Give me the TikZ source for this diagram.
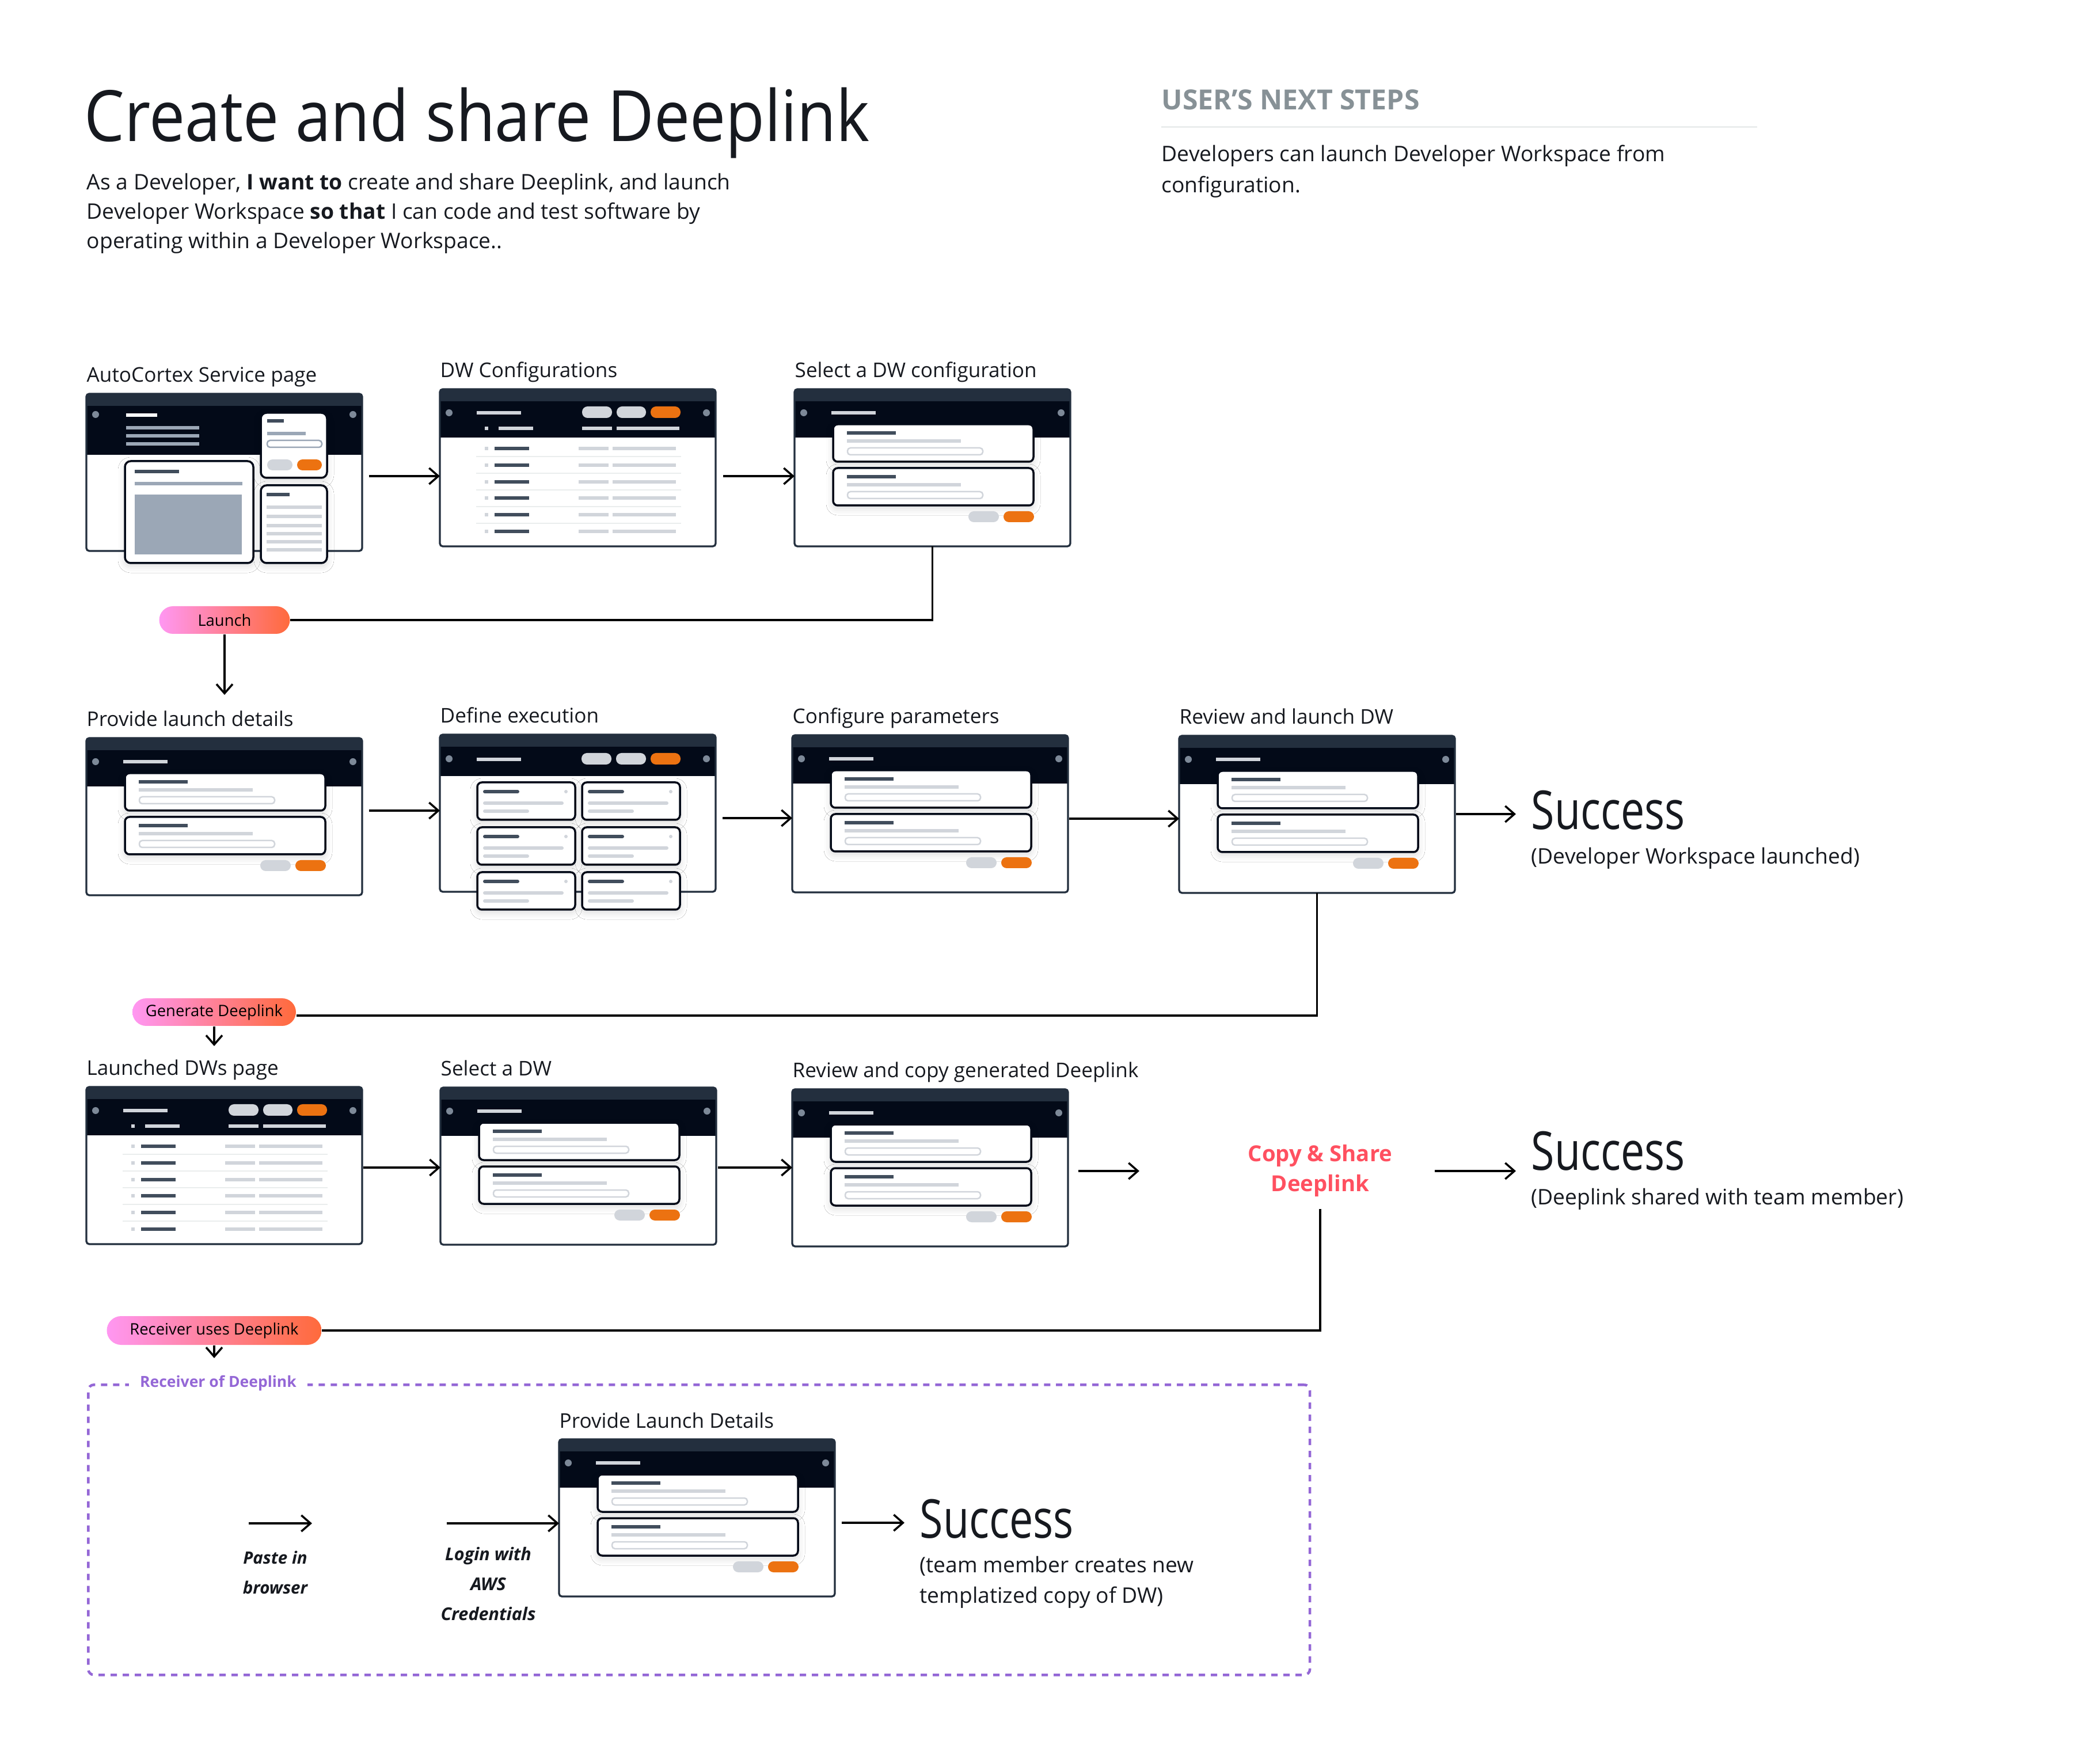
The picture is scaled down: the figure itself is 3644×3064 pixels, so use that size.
\documentclass[tikz,border=0pt]{standalone}
\usepackage{fontspec}
\setmainfont{Open Sans}
\newfontfamily\titlefont[FakeStretch=0.90]{Open Sans}
\newfontfamily\lightfont[FakeStretch=0.79]{Open Sans}
\usetikzlibrary{arrows.meta,shapes.misc,shadows.blur}

\definecolor{ink}{HTML}{16191F}
\definecolor{topbar}{HTML}{232F3E}
\definecolor{hdr}{HTML}{030A18}
\definecolor{dotc}{HTML}{7D8998}
\definecolor{lite}{HTML}{D1D5DB}
\definecolor{darkbar}{HTML}{414D5C}
\definecolor{midgray}{HTML}{9BA7B6}
\definecolor{orng}{HTML}{EC7211}
\definecolor{sep}{HTML}{EAEDED}
\definecolor{pillL}{HTML}{FF97F2}
\definecolor{pillR}{HTML}{FF6A3B}
\definecolor{purp}{HTML}{9467D6}
\definecolor{coral}{HTML}{FF5060}
\definecolor{headgray}{HTML}{879196}

\tikzset{
  cardsh/.style={blur shadow={shadow xshift=0mm, shadow yshift=-0.5mm, shadow blur radius=1.2mm, shadow opacity=15}},
  card/.style={draw=hdr, fill=white, line width=0.35mm, rounded corners=0.8mm, cardsh},
  lbl/.style={anchor=base west, inner sep=0, font=\fontsize{10}{12}\selectfont, text=ink},
  body/.style={anchor=base west, inner sep=0, font=\fontsize{10.6}{13}\selectfont, text=ink},
  succ/.style={anchor=base west, inner sep=0, font=\lightfont\fontsize{26.5}{30}\selectfont, text=ink},
  pill/.style={rounded rectangle, left color=pillL, right color=pillR, draw=none, inner sep=0, font=\fontsize{7.8}{9}\selectfont, text=black},
  arr/.style={-{Straight Barb[length=1.6mm,width=2.8mm]}, line width=0.35mm, draw=black},
  conn/.style={line width=0.35mm, draw=black},
  thumbnode/.style={inner sep=0, outer sep=0, minimum width=47.9mm, minimum height=27.3mm, anchor=north west},
}

\newcommand\tbar[4]{\fill[#1] (#2,#4-3) rectangle (#3,#4+3);}
\newcommand\tpill[5]{\fill[#1, rounded corners=0.95mm] (#2,#3) rectangle (#4,#5);}

% name, x, y, header bottom, dot y
\newcommand\thumbbase[5]{%
  \node[thumbnode] (#1) at (#2,#3) {};
  \begin{scope}[shift={(#2,#3)}]
    \fill[white] (0,0) rectangle (479,273);
    \fill[topbar, rounded corners=0.5mm] (0,40) |- (479,0) -- (479,40) -- cycle;
    \fill[hdr] (0,21) rectangle (479,#4);
    \draw[topbar, line width=0.33mm, rounded corners=0.5mm] (0,0) rectangle (479,273);
    \fill[dotc] (16,#5) circle (0.6mm);
    \fill[dotc] (463,#5) circle (0.6mm);
  \end{scope}}

\newcommand\formcard[1]{%
  \draw[card] (67,#1) rectangle (415,#1+65);
  \tbar{darkbar}{91}{176}{#1+15}
  \tbar{lite}{91}{289}{#1+29}
  \draw[lite, line width=0.25mm, rounded corners=0.5mm] (92,#1+41) rectangle (327,#1+53);}

\newcommand\formthumb[3]{%
  \thumbbase{#1}{#2}{#3}{84}{41}
  \begin{scope}[shift={(#2,#3)}]
    \tbar{lite}{64}{141}{41}
    \formcard{61}
    \formcard{137}
    \tpill{lite}{302}{212}{355}{231}
    \tpill{orng}{363}{212}{416}{231}
  \end{scope}}

\newcommand\listthumb[3]{%
  \thumbbase{#1}{#2}{#3}{84}{41}
  \begin{scope}[shift={(#2,#3)}]
    \tbar{lite}{64}{141}{41}
    \tpill{lite}{247}{30}{299}{50}
    \tpill{lite}{307}{30}{358}{50}
    \tpill{orng}{366}{30}{418}{50}
    \tbar{lite}{78}{84}{68}
    \tbar{lite}{102}{162}{68}
    \tbar{lite}{247}{299}{68}
    \tbar{lite}{307}{416}{68}
    \foreach \k in {0,...,5}{
      \pgfmathsetmacro\ry{103+28.8*\k}
      \tbar{lite}{78}{84}{\ry}
      \tbar{darkbar}{95}{155}{\ry}
      \tbar{lite}{241}{293}{\ry}
      \tbar{lite}{300}{410}{\ry}
    }
    \foreach \k in {0,...,4}{
      \pgfmathsetmacro\sy{117.4+28.8*\k}
      \draw[sep, line width=0.2mm] (63,\sy) -- (419,\sy);
    }
  \end{scope}}

\newcommand\autothumb[3]{%
  \thumbbase{#1}{#2}{#3}{106}{36}
  \begin{scope}[shift={(#2,#3)}]
    \tbar{white}{69}{123}{37}
    \tbar{midgray}{69}{196}{59}
    \tbar{midgray}{69}{196}{73}
    \tbar{midgray}{69}{196}{87}
    \draw[card, rounded corners=1mm] (303,33) rectangle (418,146);
    \tbar{darkbar}{314}{343}{47}
    \tbar{midgray}{314}{381}{69}
    \draw[midgray, line width=0.25mm, rounded corners=0.5mm] (314,81) rectangle (409,93);
    \tpill{lite}{314}{114}{358}{133}
    \tpill{orng}{366}{114}{409}{133}
    \draw[card, rounded corners=1mm] (303,159) rectangle (418,294);
    \tbar{darkbar}{313}{353}{175}
    \foreach \yy in {197,213,229,243,257,271}{\tbar{lite}{313}{409}{\yy}}
    \draw[card, rounded corners=1mm] (67,117) rectangle (290,294);
    \tbar{darkbar}{84}{161}{135}
    \tbar{midgray}{84}{271}{156}
    \fill[midgray] (84,175) rectangle (270,279);
  \end{scope}}

\newcommand\execthumb[3]{%
  \thumbbase{#1}{#2}{#3}{72}{42}
  \begin{scope}[shift={(#2,#3)}]
    \tbar{lite}{64}{141}{43}
    \tpill{lite}{246}{32}{298}{52}
    \tpill{lite}{306}{32}{358}{52}
    \tpill{orng}{366}{32}{418}{52}
    \foreach \cx in {65,247}{
      \foreach \cy in {83,161,239}{
        \draw[card] (\cx,\cy) rectangle (\cx+170,\cy+65);
        \draw[darkbar, line width=0.6mm, line cap=round] (\cx+13,\cy+16) -- (\cx+70,\cy+16);
        \fill[lite] (\cx+154,\cy+16) circle (0.3mm);
        \draw[lite, line width=0.6mm, line cap=round] (\cx+13,\cy+36) -- (\cx+147,\cy+36);
        \draw[lite, line width=0.6mm, line cap=round] (\cx+13,\cy+50) -- (\cx+87,\cy+50);
      }}
  \end{scope}}

\begin{document}
\begin{tikzpicture}[x=0.1mm, y=-0.1mm]
\fill[white] (0,0) rectangle (3644,3064);
\useasboundingbox (0,0) rectangle (3644,3064);

% ---------- header texts
\node[anchor=base west, inner sep=0, font=\titlefont\fontsize{35}{40}\selectfont, text=ink] (title) at (146,246) {Create and share Deeplink};
\node[body] (intro1) at (150,330) {As a Developer, \textbf{I want to} create and share Deeplink, and launch};
\node[body] (intro2) at (150,381) {Developer Workspace \textbf{so that} I can code and test software by};
\node[body] (intro3) at (150,432) {operating within a Developer Workspace..};

\node[anchor=base west, inner sep=0, font=\bfseries\fontsize{13.7}{16}\selectfont, text=headgray] (next) at (2017,191) {USER’S NEXT STEPS};
\coordinate (ruleA) at (2017,221);
\coordinate (ruleB) at (3052,221);
\draw[sep, line width=0.3mm] (ruleA) -- (ruleB);
\node[body] (next1) at (2017,281) {Developers can launch Developer Workspace from};
\node[body] (next2) at (2017,335) {configuration.};

% ---------- thumbnails
\autothumb{t1}{150}{684}
\listthumb{t2}{764}{676}
\formthumb{t3}{1380}{676}
\formthumb{t4}{150}{1282}
\execthumb{t5}{764}{1276}
\formthumb{t6}{1376}{1277}
\formthumb{t7}{2048}{1278}
\listthumb{t8}{150}{1888}
\formthumb{t9}{765}{1889}
\formthumb{t10}{1376}{1892}
\formthumb{t11}{971}{2500}

% ---------- thumbnail labels
\path (t1.north west) ++(0,-20) node[lbl] {AutoCortex Service page};
\path (t2.north west) ++(0,-20) node[lbl] {DW Configurations};
\path (t3.north west) ++(0,-20) node[lbl] {Select a DW configuration};
\path (t4.north west) ++(0,-20) node[lbl] {Provide launch details};
\path (t5.north west) ++(0,-20) node[lbl] {Define execution};
\path (t6.north west) ++(0,-20) node[lbl] {Configure parameters};
\path (t7.north west) ++(0,-20) node[lbl] {Review and launch DW};
\path (t8.north west) ++(0,-20) node[lbl] {Launched DWs page};
\path (t9.north west) ++(0,-20) node[lbl] {Select a DW};
\path (t10.north west) ++(0,-20) node[lbl] {Review and copy generated Deeplink};
\path (t11.north west) ++(0,-20) node[lbl] {Provide Launch Details};

% ---------- success texts
\node[succ] (s1) at (2659,1441) {Success};
\node[body] (s1b) at (2659,1501) {(Developer Workspace launched)};
\node[succ] (s2) at (2659,2032) {Success};
\node[body] (s2b) at (2659,2092) {(Deeplink shared with team member)};
\node[succ] (s3) at (1597,2671) {Success};
\node[body] (s3b) at (1597,2731) {(team member creates new};
\node[body] (s3c) at (1597,2784) {templatized copy of DW)};

\node[align=center, inner sep=0, font=\bfseries\fontsize{10.9}{14.8}\selectfont, text=coral] (copy) at (2293,2034) {Copy \& Share\\Deeplink};

% ---------- receiver box
\node[draw=purp, line width=0.45mm, dash pattern=on 1.1mm off 1.0mm, rounded corners=1mm,
      minimum width=212.2mm, minimum height=50.4mm, inner sep=0, anchor=north west] (rbox) at (151,2403) {};
\node[fill=white, inner xsep=1.9mm, inner ysep=0.5mm, font=\bfseries\fontsize{7.55}{9}\selectfont, text=purp] (rlabel) at (379,2403) {Receiver of Deeplink};

\node[align=center, inner sep=0, font=\bfseries\itshape\fontsize{8.4}{14.8}\selectfont, text=ink] (paste) at (478,2731) {Paste in\\browser};
\node[align=center, inner sep=0, font=\bfseries\itshape\fontsize{8.7}{14.8}\selectfont, text=ink] (login) at (848,2751) {Login with\\AWS\\Credentials};

% ---------- pills
\node[pill, minimum width=22.7mm, minimum height=4.8mm] (p1) at (390,1077) {Launch};
\node[pill, minimum width=28.4mm, minimum height=4.8mm] (p2) at (372,1758) {Generate Deeplink};
\node[pill, minimum width=37.3mm, minimum height=5mm] (p3) at (372,2311) {Receiver uses Deeplink};

% ---------- row arrows
\draw[arr, shorten <=1.2mm] (t1.east |- 0,827) -- (t2.west |- 0,827);
\draw[arr, shorten <=1.3mm] (t2.east |- 0,827) -- (t3.west |- 0,827);

\draw[arr, shorten <=1.2mm] (t4.east |- 0,1408) -- (t5.west |- 0,1408);
\draw[arr, shorten <=1.2mm] (t5.east |- 0,1421) -- (t6.west |- 0,1421);
\draw[arr, shorten <=0.2mm] (t6.east |- 0,1422) -- (t7.west |- 0,1422);
\draw[arr, shorten <=0.2mm, shorten >=2.6mm] (t7.east |- 0,1414) -- (s1.west |- 0,1414);

\draw[arr, shorten <=0.2mm] (t8.east |- 0,2028) -- (t9.west |- 0,2028);
\draw[arr, shorten <=0.3mm] (t9.east |- 0,2028) -- (t10.west |- 0,2028);
\draw[arr, shorten <=1.8mm, shorten >=18.8mm] (t10.east |- 0,2034) -- (copy.west |- 0,2034);
\draw[arr, shorten <=7.3mm, shorten >=2.6mm] (copy.east |- 0,2034) -- (s2.west |- 0,2034);

\coordinate (pasteA) at (432,2646);
\coordinate (pasteB) at (542,2646);
\draw[arr] (pasteA) -- (pasteB);
\coordinate (loginA) at (776,2646);
\draw[arr] (loginA) -- (t11.west |- loginA);
\draw[arr, shorten <=1.2mm, shorten >=2.6mm] (t11.east |- 0,2645) -- (s3.west |- 0,2645);

% ---------- loop-back connectors
\draw[conn] (t3.south) |- (p1.east);
\coordinate (a1) at (p1.south |- 0,1207);
\draw[arr] (p1.south) -- (a1);

\draw[conn] (t7.south) |- ([yshift=-0.6mm]p2.east);
\coordinate (a2) at (p2.south |- 0,1817);
\draw[arr] (p2.south) -- (a2);

\draw[conn, shorten <=2mm] (copy.south) |- (p3.east);
\coordinate (a3) at (p3.south |- 0,2359);
\draw[arr] (p3.south) -- (a3);
\end{tikzpicture}
\end{document}
